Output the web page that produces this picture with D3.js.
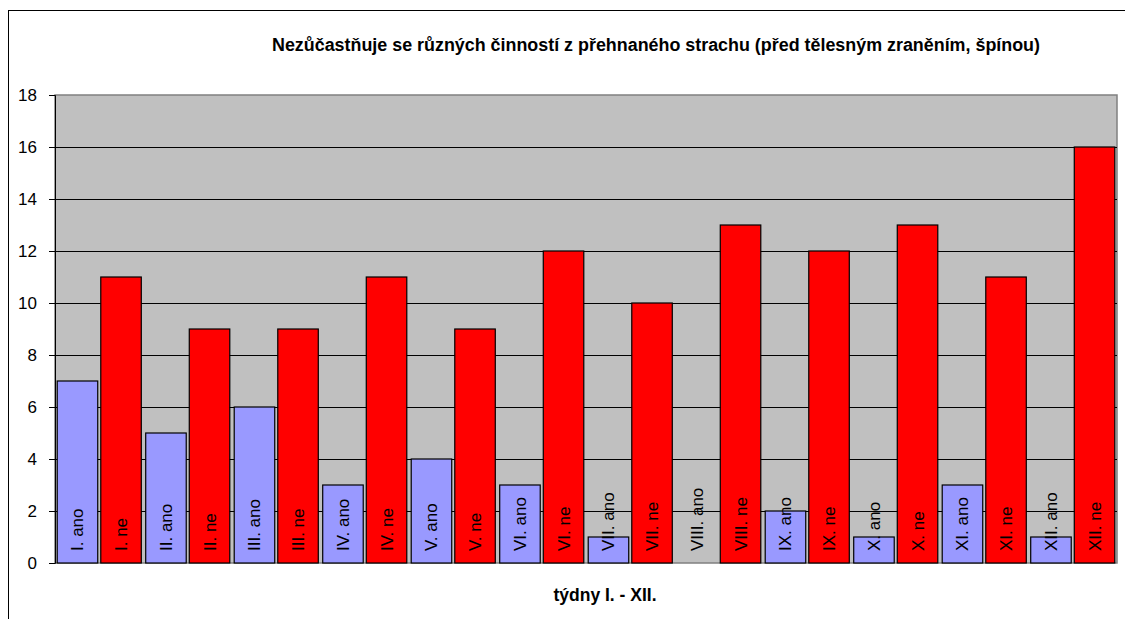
<!DOCTYPE html>
<html>
<head>
<meta charset="utf-8">
<script src="https://cdn.jsdelivr.net/npm/d3@7"></script>
<style>
  body { margin: 0; background: #fff; }
  text { font-family: "Liberation Sans", Arial, sans-serif; }
</style>
</head>
<body>
<script>
const weeks = ["I.", "II.", "III.", "IV.", "V.", "VI.", "VII.", "VIII.", "IX.", "X.", "XI.", "XII."];
const series = ["ano", "ne"];
const anoValues = [7, 5, 6, 3, 4, 3, 1, 0, 2, 1, 3, 1];
const neValues = [11, 9, 9, 11, 9, 12, 10, 13, 12, 13, 11, 16];
const yTicks = [0, 2, 4, 6, 8, 10, 12, 14, 16, 18];
const colors = { ano: "#9999ff", ne: "#ff0000" };

const width = 1125;
const height = 619;
const margin = { top: 95, right: 8, bottom: 56, left: 55 };

const svg = d3.select("body").append("svg")
  .attr("width", width)
  .attr("height", height);

// outer chart frame (right/bottom edges fall outside the picture)
svg.append("rect")
  .attr("x", 8.5).attr("y", 10.5)
  .attr("width", 1130).attr("height", 620)
  .attr("fill", "none").attr("stroke", "#000").attr("stroke-width", 1);

const x0 = d3.scaleBand()
  .domain(weeks)
  .range([margin.left, width - margin.right])
  .paddingInner(0.05)
  .paddingOuter(0.025);

const x1 = d3.scaleBand()
  .domain(series)
  .range([0, x0.bandwidth()])
  .paddingInner(0.07);

const y = d3.scaleLinear()
  .domain([0, 18])
  .range([height - margin.bottom, margin.top]);

// plot area
svg.append("rect")
  .attr("x", margin.left).attr("y", margin.top)
  .attr("width", width - margin.right - margin.left)
  .attr("height", y(0) - margin.top)
  .attr("fill", "#c0c0c0")
  .attr("stroke", "#808080").attr("stroke-width", 1.5);

// gridlines
svg.append("g")
  .selectAll("line")
  .data(yTicks.filter(d => d > 0 && d < 18))
  .join("line")
  .attr("x1", margin.left).attr("x2", width - margin.right)
  .attr("y1", d => Math.round(y(d)) + 0.5).attr("y2", d => Math.round(y(d)) + 0.5)
  .attr("stroke", "#000").attr("stroke-width", 1);

const data = weeks.map((w, i) => ({
  week: w,
  values: [
    { key: "ano", value: anoValues[i] },
    { key: "ne", value: neValues[i] }
  ]
}));

const groups = svg.append("g")
  .selectAll("g")
  .data(data)
  .join("g")
  .attr("transform", d => `translate(${x0(d.week)},0)`);

groups.selectAll("rect")
  .data(d => d.values.filter(v => v.value > 0))
  .join("rect")
  .attr("x", d => x1(d.key))
  .attr("width", x1.bandwidth())
  .attr("y", d => y(d.value))
  .attr("height", d => y(0) - y(d.value))
  .attr("fill", d => colors[d.key])
  .attr("stroke", "#000").attr("stroke-width", 1.2);

groups.selectAll("text")
  .data(d => d.values.map(v => ({ ...v, week: d.week })))
  .join("text")
  .attr("transform", d => `translate(${x1(d.key) + x1.bandwidth() / 2 + 6},${y(0) - 12}) rotate(-90)`)
  .attr("font-size", 17)
  .attr("fill", "#000")
  .text(d => `${d.week} ${d.key}`);

// y axis
const yAxis = d3.axisLeft(y)
  .tickValues(yTicks)
  .tickSize(6)
  .tickPadding(12);

svg.append("g")
  .attr("transform", `translate(${margin.left},0)`)
  .call(yAxis)
  .call(g => g.selectAll("text").attr("font-size", 17).attr("font-family", "Liberation Sans, Arial, sans-serif").attr("fill", "#000"))
  .call(g => g.selectAll("line, path").attr("stroke", "#000"));

// titles
svg.append("text")
  .attr("x", 656).attr("y", 51)
  .attr("text-anchor", "middle")
  .attr("font-size", 17.5).attr("font-weight", "bold")
  .attr("textLength", 768).attr("lengthAdjust", "spacingAndGlyphs")
  .text("Nezůčastňuje se různých činností z přehnaného strachu (před tělesným zraněním, špínou)");

svg.append("text")
  .attr("x", 605).attr("y", 601)
  .attr("text-anchor", "middle")
  .attr("font-size", 17.5).attr("font-weight", "bold")
  .text("týdny I. - XII.");
</script>
</body>
</html>
